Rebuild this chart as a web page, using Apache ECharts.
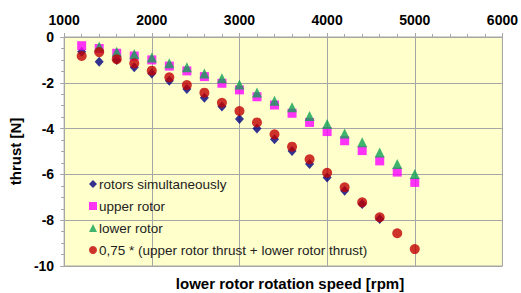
<!DOCTYPE html>
<html lang="en">
<head>
    <meta charset="UTF-8">
    <title>thrust vs rotation speed</title>
    <script src="https://cdn.jsdelivr.net/npm/echarts@6/dist/echarts.min.js"></script>
</head>
<style>
    html, body { margin: 0; padding: 0; background-color: #FFFFFF; }
</style>
<body>
<div id="main" style="width: 521px;height: 293px;"></div>
<script>
    // rotation speed of the lower rotor [rpm]
    var rpm = [1200, 1400, 1600, 1800, 2000, 2200, 2400, 2600, 2800, 3000,
               3200, 3400, 3600, 3800, 4000, 4200, 4400, 4600, 4800, 5000];

    // thrust [N]
    var simultaneous = [-0.64, -1.08, -1.0, -1.32, -1.59, -1.91, -2.27, -2.65, -3.04, -3.58,
                        -4.0, -4.47, -4.98, -5.55, -6.13, -6.71, -7.29, -7.95, null, null];
    var upperRotor = [-0.38, -0.5, -0.71, -0.83, -1.0, -1.27, -1.48, -1.73, -2.02, -2.31,
                      -2.61, -2.97, -3.33, -3.73, -4.13, -4.53, -4.96, -5.41, -5.9, -6.35];
    var lowerRotor = [null, -0.42, -0.64, -0.74, -0.9, -1.15, -1.32, -1.59, -1.8, -2.07,
                      -2.42, -2.78, -3.07, -3.45, -3.8, -4.21, -4.6, -5.04, -5.55, -5.98];
    var combined = [-0.83, -0.66, -0.97, -1.15, -1.47, -1.76, -2.1, -2.43, -2.87, -3.23,
                    -3.73, -4.25, -4.79, -5.34, -5.93, -6.56, -7.22, -7.87, -8.57, -9.26];

    var names = ['rotors simultaneously', 'upper rotor', 'lower rotor',
                 '0,75 * (upper rotor thrust + lower rotor thrust)'];

    function pairs(vals) {
        var out = [];
        for (var i = 0; i < rpm.length; i++) {
            if (vals[i] !== null) out.push([rpm[i], vals[i]]);
        }
        return out;
    }

    var myChart = echarts.init(document.getElementById('main'), null, {renderer: 'svg'});
    var font = 'Liberation Sans, Arial, sans-serif';
    var boldLabel = {color: '#000', fontWeight: 'bold', fontSize: 14, fontFamily: font};

    var option = {
        animation: false,
        backgroundColor: '#FFFFFF',
        title: {
            text: 'lower rotor rotation speed [rpm]',
            left: 285,
            top: 271,
            textAlign: 'center',
            textStyle: {color: '#000', fontWeight: 'bold', fontSize: 15, fontFamily: font}
        },
        grid: {
            left: 64, right: 17, top: 37, bottom: 27,
            show: true,
            backgroundColor: '#FFFFCC',
            borderColor: '#A6A6A6',
            borderWidth: 1
        },
        legend: {
            orient: 'vertical',
            left: 84,
            top: 172,
            itemWidth: 8,
            itemHeight: 8,
            itemGap: 8,
            textStyle: {color: '#222', fontSize: 13.5, lineHeight: 14, fontFamily: font, padding: [0, 0, 0, -3]},
            data: [
                {name: names[0], icon: 'diamond'},
                {name: names[1], icon: 'rect'},
                {name: names[2], icon: 'triangle'},
                {name: names[3], icon: 'circle'}
            ]
        },
        xAxis: {
            type: 'value',
            position: 'top',
            min: 1000, max: 6000, interval: 1000,
            axisLine: {show: true, lineStyle: {color: '#A6A6A6'}},
            axisTick: {show: true, length: 4, lineStyle: {color: '#A6A6A6'}},
            minorTick: {show: true, splitNumber: 5, length: 3, lineStyle: {color: '#A6A6A6'}},
            axisLabel: Object.assign({margin: 10, formatter: function (v) { return String(v); }}, boldLabel),
            splitLine: {show: true, lineStyle: {color: '#A6A6A6'}}
        },
        yAxis: {
            type: 'value',
            min: -10, max: 0, interval: 2,
            name: 'thrust [N]',
            nameLocation: 'middle',
            nameRotate: 90,
            nameGap: 33,
            nameTextStyle: {color: '#000', fontWeight: 'bold', fontSize: 15, fontFamily: font},
            axisLine: {show: true, lineStyle: {color: '#A6A6A6'}},
            axisTick: {show: true, length: 4, lineStyle: {color: '#A6A6A6'}},
            minorTick: {show: true, splitNumber: 4, length: 3, lineStyle: {color: '#A6A6A6'}},
            axisLabel: Object.assign({margin: 10}, boldLabel),
            splitLine: {show: true, lineStyle: {color: '#A6A6A6'}}
        },
        series: [
            {name: names[0], type: 'scatter', symbol: 'diamond', symbolSize: [9, 10],
             itemStyle: {color: '#000080'}, data: pairs(simultaneous)},
            {name: names[1], type: 'scatter', symbol: 'rect', symbolSize: 9,
             itemStyle: {color: '#FF00FF'}, data: pairs(upperRotor)},
            {name: names[2], type: 'scatter', symbol: 'triangle', symbolSize: 10,
             itemStyle: {color: '#10A055'}, data: pairs(lowerRotor)},
            {name: names[3], type: 'scatter', symbol: 'circle', symbolSize: 10,
             itemStyle: {color: '#C00000'}, data: pairs(combined)}
        ]
    };

    myChart.setOption(option);
</script>
</body>
</html>
